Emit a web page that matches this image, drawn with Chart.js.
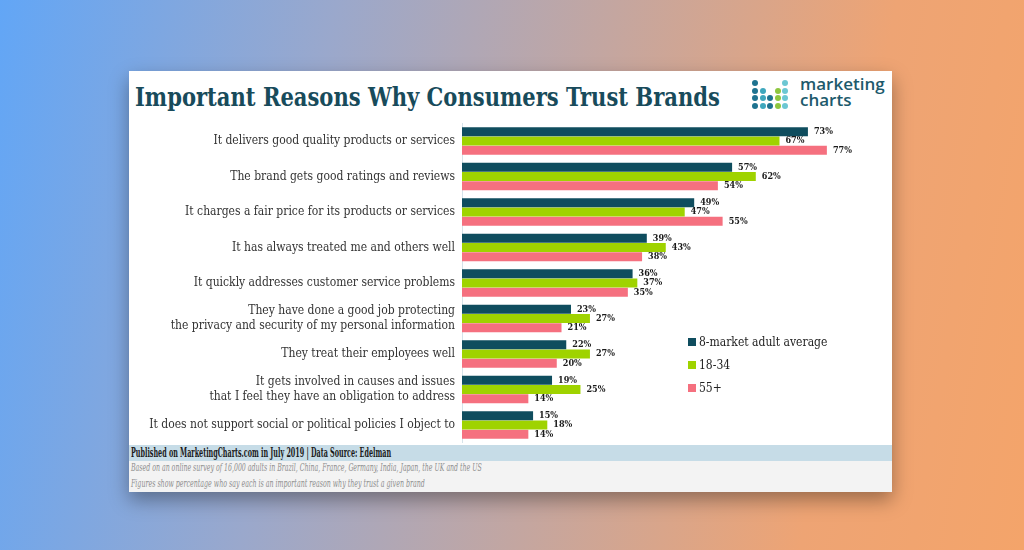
<!DOCTYPE html>
<html lang="en">

<head>
    <meta charset="UTF-8">
    <title>Important Reasons Why Consumers Trust Brands</title>
    <script src="https://cdn.jsdelivr.net/npm/chart.js"></script>
    <style>
        html, body {
            margin: 0;
            padding: 0;
            width: 1024px;
            height: 550px;
            overflow: hidden;
        }

        body {
            background: linear-gradient(100deg, #62a6f6 0%, #9aa8cc 30%, #c4a6a0 55%, #eea474 80%, #f4a46a 100%);
            font-family: "DejaVu Serif Condensed", "DejaVu Serif", serif;
        }

        .card {
            position: absolute;
            left: 129px;
            top: 71px;
            width: 763px;
            height: 421px;
            background: #fff;
            box-shadow: 0 8px 18px rgba(0, 0, 0, 0.35);
        }

        .titulo {
            position: absolute;
            left: 6px;
            top: 11px;
            font-size: 26px;
            line-height: 30px;
            font-weight: bold;
            color: #184b5b;
            white-space: nowrap;
            transform-origin: left center;
        }

        .logo-dots {
            position: absolute;
            left: 623px;
            top: 9px;
        }

        .dot {
            position: absolute;
            width: 6px;
            height: 6px;
            border-radius: 50%;
        }

        .logo-text {
            position: absolute;
            left: 671px;
            top: 5px;
            font-family: "Open Sans", sans-serif;
            font-weight: 600;
            font-size: 17px;
            line-height: 16px;
            color: #1d5a6c;
        }

        #grafico {
            position: absolute;
            left: 0;
            top: 38px;
        }

        .leyenda {
            position: absolute;
            left: 559px;
            top: 262px;
            font-size: 12px;
            color: #222;
        }

        .leyenda div {
            height: 23px;
            line-height: 18px;
            white-space: nowrap;
        }

        .leyenda span {
            display: inline-block;
            width: 8px;
            height: 8px;
            margin-right: 3px;
        }

        .pie-fuente {
            position: absolute;
            left: 0;
            top: 374px;
            width: 763px;
            height: 16px;
            background: #c6dce7;
        }

        .pie-notas {
            position: absolute;
            left: 0;
            top: 390px;
            width: 763px;
            height: 31px;
            background: #f3f3f3;
        }

        .txt {
            position: absolute;
            left: 2px;
            white-space: nowrap;
            transform-origin: left center;
        }

        .fuente {
            top: 0;
            font-size: 12px;
            line-height: 16px;
            font-weight: bold;
            color: #1a1a1a;
        }

        .nota {
            font-size: 11px;
            line-height: 14px;
            font-style: italic;
            color: #8e8e8e;
        }
    </style>
</head>

<body>

    <div class="card">
        <div class="titulo" id="titulo">Important Reasons Why Consumers Trust Brands</div>
        <div class="logo-dots" id="logoDots"></div>
        <div class="logo-text">marketing<br>charts</div>

        <canvas id="grafico" width="763" height="348"></canvas>

        <div class="leyenda">
            <div><span style="background:#0f4d5e"></span>8-market adult average</div>
            <div><span style="background:#9fd300"></span>18-34</div>
            <div><span style="background:#f5707f"></span>55+</div>
        </div>

        <div class="pie-fuente">
            <div class="txt fuente" id="fuente">Published on MarketingCharts.com in July 2019 | Data Source: Edelman</div>
        </div>
        <div class="pie-notas">
            <div class="txt nota" id="nota1" style="top:0px">Based on an online survey of 16,000 adults in Brazil, China, France, Germany, India, Japan, the UK and the US</div>
            <div class="txt nota" id="nota2" style="top:16px">Figures show percentage who say each is an important reason why they trust a given brand</div>
        </div>
    </div>

    <script>
        const categorias = [
            'It delivers good quality products or services',
            'The brand gets good ratings and reviews',
            'It charges a fair price for its products or services',
            'It has always treated me and others well',
            'It quickly addresses customer service problems',
            ['They have done a good job protecting', 'the privacy and security of my personal information'],
            'They treat their employees well',
            ['It gets involved in causes and issues', 'that I feel they have an obligation to address'],
            'It does not support social or political policies I object to'
        ];

        const promedio = [73, 57, 49, 39, 36, 23, 22, 19, 15];
        const jovenes = [67, 62, 47, 43, 37, 27, 27, 25, 18];
        const mayores = [77, 54, 55, 38, 35, 21, 20, 14, 14];

        // ajustar ancho de los textos al de la imagen
        function ajustar(id, ancho) {
            const el = document.getElementById(id);
            el.style.transform = 'scaleX(' + (ancho / el.scrollWidth) + ')';
        }
        ajustar('titulo', 585);
        ajustar('fuente', 260);
        ajustar('nota1', 351);
        ajustar('nota2', 294);

        // logo de puntos
        const colorDots = [
            ['#1e7390', null, null, null, '#6cc7d3'],
            ['#1e7390', '#3ea7bd', null, '#8dc63f', '#6cc7d3'],
            ['#1e7390', '#3ea7bd', '#1e7390', '#8dc63f', '#6cc7d3'],
            ['#1e7390', '#3ea7bd', '#1e7390', '#8dc63f', '#6cc7d3']
        ];
        const logoDots = document.getElementById('logoDots');
        colorDots.forEach((fila, r) => {
            fila.forEach((c, col) => {
                if (!c) return;
                const d = document.createElement('div');
                d.className = 'dot';
                d.style.left = (col * 7.5) + 'px';
                d.style.top = (r * 7.5) + 'px';
                d.style.background = c;
                logoDots.appendChild(d);
            });
        });

        const etiquetasPlugin = {
            id: 'etiquetas',
            afterDatasetsDraw(chart) {
                const ctx = chart.ctx;
                ctx.save();
                ctx.font = 'bold 9px "DejaVu Serif Condensed", "DejaVu Serif", serif';
                ctx.fillStyle = '#1a1a1a';
                ctx.textAlign = 'left';
                ctx.textBaseline = 'middle';
                chart.data.datasets.forEach((ds, i) => {
                    const meta = chart.getDatasetMeta(i);
                    meta.data.forEach((bar, j) => {
                        ctx.fillText(ds.data[j] + '%', bar.x + 6, bar.y);
                    });
                });
                ctx.restore();
            }
        };

        const ctx = document.getElementById('grafico').getContext('2d');
        new Chart(ctx, {
            type: 'bar',
            data: {
                labels: categorias,
                datasets: [
                    { label: '8-market adult average', data: promedio, backgroundColor: '#0f4d5e' },
                    { label: '18-34', data: jovenes, backgroundColor: '#9fd300' },
                    { label: '55+', data: mayores, backgroundColor: '#f5707f' }
                ]
            },
            options: {
                indexAxis: 'y',
                responsive: false,
                animation: false,
                categoryPercentage: 0.78,
                barPercentage: 0.97,
                layout: {
                    padding: { top: 6, bottom: 2, left: 0, right: 13 }
                },
                plugins: {
                    legend: { display: false },
                    tooltip: { enabled: false }
                },
                scales: {
                    x: {
                        display: false,
                        min: 0,
                        max: 88
                    },
                    y: {
                        afterFit(scale) {
                            scale.width = 333;
                        },
                        grid: {
                            display: false,
                            drawTicks: false
                        },
                        border: {
                            display: true,
                            color: '#d6e3ea',
                            width: 1
                        },
                        ticks: {
                            padding: 7,
                            color: '#333',
                            font: {
                                family: '"DejaVu Serif Condensed", "DejaVu Serif", serif',
                                size: 12
                            }
                        }
                    }
                }
            },
            plugins: [etiquetasPlugin]
        });
    </script>

</body>

</html>
